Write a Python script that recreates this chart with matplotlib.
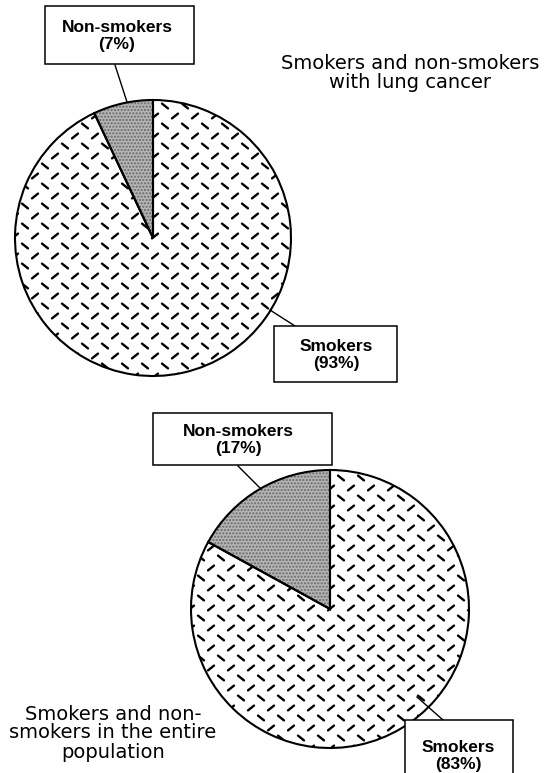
import numpy as np
import matplotlib.pyplot as plt
from matplotlib.patches import Rectangle

# data
labels = ['Non-smokers', 'Smokers']
lung_cancer = [7, 93]
population = [17, 83]
titles = ['Smokers and non-smokers\nwith lung cancer',
          'Smokers and non-\nsmokers in the entire\npopulation']

W, H = 550, 773
fig = plt.figure(figsize=(W / 100, H / 100), dpi=100)
ax = fig.add_axes([0, 0, 1, 1])


def Y(y):
    # image rows -> data y
    return H - y


def dash_texture(wedge, cx, cy, r, step=10):
    # staggered rows of short dashes, alternating "\" and "/" by row
    xs = np.arange(cx - r - step, cx + r + step, step)
    ys = np.arange(cy - r - step, cy + r + step, step)
    dx, dy = 3.0, 2.4
    for i, x in enumerate(xs):
        for j, y in enumerate(ys):
            if (i + j) % 2:
                continue
            s = 1 if j % 2 else -1
            ln, = ax.plot([x - dx, x + dx], [y - s * dy, y + s * dy],
                          color='black', lw=1.7, solid_capstyle='round')
            ln.set_clip_path(wedge)


def draw_pie(values, cx, cy, r):
    c = (cx, Y(cy))
    wedges, _ = ax.pie(values, center=c, radius=r, startangle=90,
                       counterclock=True, colors=['#b4b4b4', 'white'],
                       wedgeprops=dict(edgecolor='#686868', linewidth=0,
                                       hatch='.....'))
    wedges[1].set_hatch(None)
    dash_texture(wedges[1], cx, Y(cy), r)
    ax.pie(values, center=c, radius=r, startangle=90, counterclock=True,
           colors=['none', 'none'],
           wedgeprops=dict(edgecolor='black', linewidth=1.5))


def label_box(x0, y0, x1, y1, name, val, tx):
    ax.add_patch(Rectangle((x0, Y(y1)), x1 - x0, y1 - y0, facecolor='white',
                           edgecolor='black', lw=1.1, zorder=5))
    ax.text(tx, Y((y0 + y1) / 2) - 1, f'{name}\n({val}%)', ha='center',
            va='center', fontsize=12.5, fontweight='bold',
            family='Liberation Sans', linespacing=1.15, zorder=6)


# top pie
draw_pie(lung_cancer, 153, 238, 138)
ax.plot([115, 127], [Y(65), Y(102)], color='black', lw=1)
ax.plot([270, 295], [Y(310), Y(326)], color='black', lw=1)
label_box(45, 6, 194, 64, labels[0], lung_cancer[0], 117)
label_box(274, 326, 397, 382, labels[1], lung_cancer[1], 336)
ax.text(410, Y(73), titles[0], ha='center', va='center', fontsize=14,
        family='DejaVu Sans', linespacing=1.0)

# bottom pie
draw_pie(population, 330, 609, 139)
ax.plot([238, 261], [Y(466), Y(489)], color='black', lw=1)
ax.plot([417, 443], [Y(697), Y(720)], color='black', lw=1)
label_box(153, 413, 332, 465, labels[0], population[0], 238)
label_box(405, 720, 513, 790, labels[1], population[1], 458)
ax.text(113, Y(733), titles[1], ha='center', va='center', fontsize=14,
        family='DejaVu Sans', linespacing=1.0)

ax.set_xlim(0, W)
ax.set_ylim(0, H)
ax.set_aspect('equal')
ax.axis('off')

fig.savefig('out.png', dpi=100)
